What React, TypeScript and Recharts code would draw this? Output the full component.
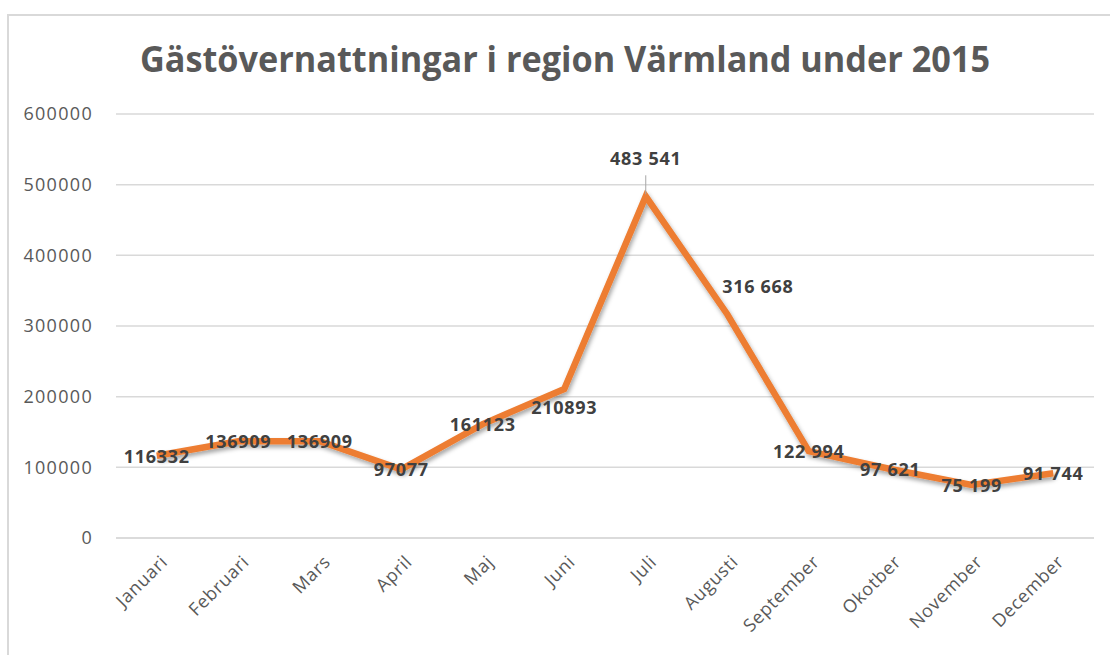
import React from 'react';
import { LineChart, Line, XAxis, YAxis, CartesianGrid, LabelList } from 'recharts';

const title = 'Gästövernattningar i region Värmland under 2015';
const months = ['Januari', 'Februari', 'Mars', 'April', 'Maj', 'Juni', 'Juli', 'Augusti', 'September', 'Okotber', 'November', 'December'];
const guestNights = [116332, 136909, 136909, 97077, 161123, 210893, 483541, 316668, 122994, 97621, 75199, 91744];
const valueLabels = ['116332', '136909', '136909', '97077', '161123', '210893', '483 541', '316 668', '122 994', '97 621', '75 199', '91 744'];
const labelPlacement = ['center', 'center', 'center', 'center', 'center', 'below', 'above', 'right', 'center', 'center', 'center', 'center'];
const yTicks = [0, 100000, 200000, 300000, 400000, 500000, 600000];

const data = months.map((m, i) => ({ month: m, value: guestNights[i] }));

const FONT = '"Open Sans", "DejaVu Sans", sans-serif';

const renderLabel = (props: any) => {
  const { x, y, index } = props;
  const place = labelPlacement[index];
  const text = valueLabels[index];
  const common = {
    fontFamily: FONT,
    fontSize: 18,
    fontWeight: 700,
    fill: '#404040',
    letterSpacing: 0.7,
    dominantBaseline: 'central' as const,
  };
  if (place === 'above') {
    return (
      <g>
        <line x1={x} y1={y - 21} x2={x} y2={y - 2} stroke="#a6a6a6" strokeWidth={1} />
        <text x={x} y={y - 38} textAnchor="middle" {...common}>{text}</text>
      </g>
    );
  }
  if (place === 'right') {
    return <text x={x - 5} y={y - 28} textAnchor="start" {...common}>{text}</text>;
  }
  if (place === 'below') {
    return <text x={x} y={y + 18} textAnchor="middle" {...common}>{text}</text>;
  }
  return <text x={x} y={y} textAnchor="middle" {...common}>{text}</text>;
};

const XTick = (props: any) => {
  const { x, y, payload } = props;
  return (
    <g transform={`translate(${x + 3},${y + 8})`}>
      <text
        x={0}
        y={0}
        dy="0.7em"
        textAnchor="end"
        transform="rotate(-45)"
        fontFamily={FONT}
        fontSize={18}
        fill="#595959"
        letterSpacing={0.7}
      >
        {payload.value}
      </text>
    </g>
  );
};

export default function App() {
  return (
    <div style={{ position: 'absolute', left: 0, top: 0, width: 1110, height: 655, background: '#fff', overflow: 'hidden' }}>
      <div
        style={{
          position: 'absolute',
          left: 7,
          top: 14,
          right: 0,
          bottom: 0,
          borderLeft: '2px solid #d9d9d9',
          borderTop: '2px solid #d9d9d9',
        }}
      />
      <svg width={1110} height={100} style={{ position: 'absolute', left: 0, top: 0 }}>
        <defs>
          <filter id="lineShadow" x="-10%" y="-10%" width="130%" height="140%">
            <feDropShadow dx="1.5" dy="3" stdDeviation="2.2" floodColor="#000" floodOpacity="0.35" />
          </filter>
        </defs>
        <text
          x={565}
          y={72}
          textAnchor="middle"
          fontFamily={FONT}
          fontWeight={700}
          fontSize={36}
          fill="#595959"
          textLength={850}
          lengthAdjust="spacingAndGlyphs"
        >
          {title}
        </text>
      </svg>
      <div style={{ position: 'absolute', left: 0, top: 0, width: 1110, height: 655 }}>
        <LineChart width={1110} height={655} data={data} margin={{ top: 114, right: 16, left: 0, bottom: 17 }}>
          <CartesianGrid vertical={false} stroke="#d9d9d9" strokeWidth={1.5} />
          <XAxis
            dataKey="month"
            interval={0}
            height={100}
            padding={{ left: 40.75, right: 40.75 }}
            tickLine={false}
            axisLine={{ stroke: '#d9d9d9', strokeWidth: 1.5 }}
            tick={<XTick />}
          />
          <YAxis
            width={116}
            domain={[0, 600000]}
            ticks={yTicks}
            axisLine={false}
            tickLine={false}
            tickMargin={17}
            tick={{ fill: '#595959', fontSize: 18, fontFamily: FONT, letterSpacing: 1.3 }}
          />
          <Line
            type="linear"
            dataKey="value"
            stroke="#ED7D31"
            strokeWidth={6.5}
            dot={false}
            activeDot={false}
            isAnimationActive={false}
            filter="url(#lineShadow)"
          >
            <LabelList dataKey="value" content={renderLabel} />
          </Line>
        </LineChart>
      </div>
    </div>
  );
}
